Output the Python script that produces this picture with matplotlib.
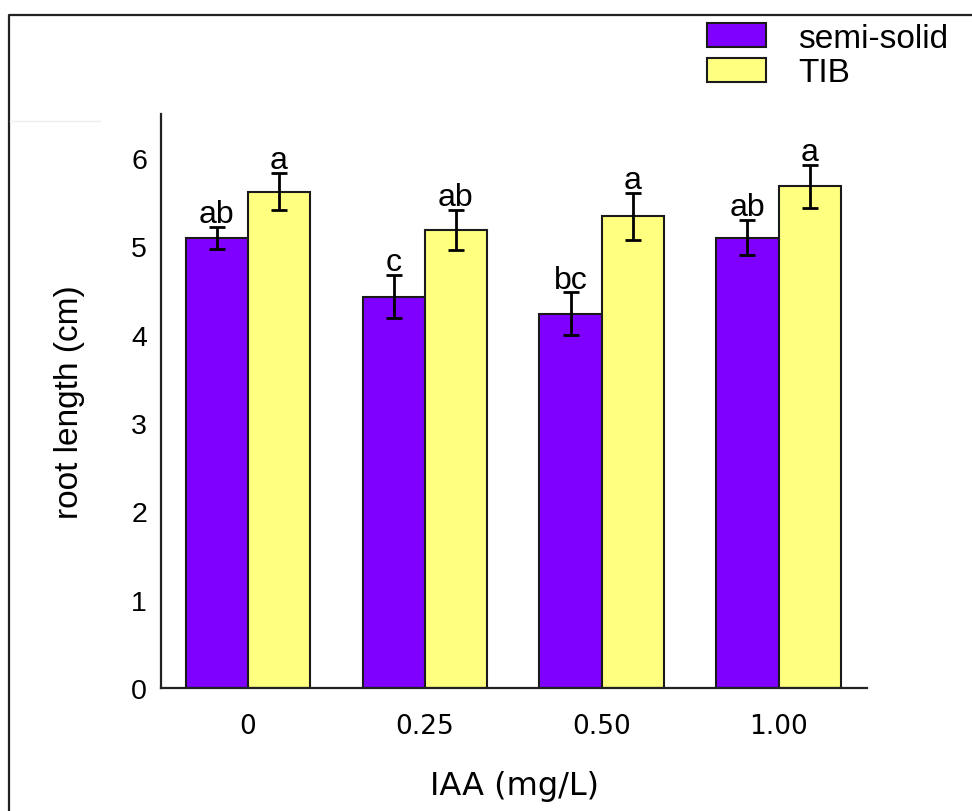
import matplotlib.pyplot as plt
from matplotlib.lines import Line2D
from matplotlib.patches import Patch
import numpy as np

# root length per IAA concentration
iaa_levels = ['0', '0.25', '0.50', '1.00']
semi_solid = [5.10, 4.43, 4.24, 5.10]
semi_solid_err = [0.125, 0.245, 0.24, 0.20]
tib = [5.62, 5.19, 5.34, 5.68]
tib_err = [0.21, 0.225, 0.265, 0.245]
semi_letters = ['ab', 'c', 'bc', 'ab']
tib_letters = ['a', 'ab', 'a', 'a']

purple = '#7f00ff'
yellow = '#ffff80'

fig = plt.figure(figsize=(9.72, 8.12), dpi=100)
ax = fig.add_axes([161 / 972, 1 - 689 / 812, 706 / 972, 574 / 812])

x = np.arange(len(iaa_levels))
width = 0.351

err_kw = dict(ecolor='black', elinewidth=2, capsize=5.5, capthick=2)
ax.bar(x - width / 2, semi_solid, width, yerr=semi_solid_err, color=purple,
       edgecolor='#1a1a1a', linewidth=1.5, error_kw=err_kw, zorder=2)
ax.bar(x + width / 2, tib, width, yerr=tib_err, color=yellow,
       edgecolor='#1a1a1a', linewidth=1.5, error_kw=err_kw, zorder=2)

# significance letters above the error bars
for i in range(len(x)):
    ax.annotate(semi_letters[i], (x[i] - width / 2, semi_solid[i] + semi_solid_err[i]),
                xytext=(0, 3.5), textcoords='offset points', ha='center', va='baseline',
                fontsize=23, family='Liberation Sans')
    ax.annotate(tib_letters[i], (x[i] + width / 2, tib[i] + tib_err[i]),
                xytext=(0, 3.5), textcoords='offset points', ha='center', va='baseline',
                fontsize=23, family='Liberation Sans')

ax.set_xlim(-0.49, 3.5)
ax.set_ylim(0, 6.5)
ax.set_yticks(range(0, 7))
ax.set_xticks(x)
ax.set_xticklabels(iaa_levels, fontsize=19, family='DejaVu Sans')
for lab in ax.get_yticklabels():
    lab.set_fontsize(20.5)
    lab.set_family('Liberation Sans')
ax.tick_params(axis='x', length=0, pad=18)
ax.tick_params(axis='y', length=0, pad=10)

for side in ['top', 'right']:
    ax.spines[side].set_visible(False)
for side in ['left', 'bottom']:
    ax.spines[side].set_linewidth(1.6)
    ax.spines[side].set_color('#222222')

ax.set_xlabel('IAA (mg/L)', fontsize=23, family='DejaVu Sans')
ax.xaxis.set_label_coords(0.5, -0.143)
ax.set_ylabel('root length (cm)', fontsize=24, family='Liberation Sans')
ax.yaxis.set_label_coords(-0.108, 0.5)

handles = [Patch(facecolor=purple, edgecolor='#1a1a1a', linewidth=1.5, label='semi-solid'),
           Patch(facecolor=yellow, edgecolor='#1a1a1a', linewidth=1.5, label='TIB')]
fig.legend(handles=handles, loc='upper left', bbox_to_anchor=(707 / 972, 1 - 24 / 812),
           frameon=False, borderpad=0, borderaxespad=0, labelspacing=0.1,
           handlelength=1.78, handleheight=0.72, handletextpad=0.95,
           prop={'family': 'Liberation Sans', 'size': 24})

# outer frame of the original figure (only top and left edges visible)
fig.add_artist(Line2D([9 / 972, 9 / 972, 1], [0, 1 - 16 / 812, 1 - 16 / 812],
                      transform=fig.transFigure, color='#222222', linewidth=1.6))
fig.add_artist(Line2D([10 / 972, 100 / 972], [1 - 122 / 812, 1 - 122 / 812],
                      transform=fig.transFigure, color='#eeeeee', linewidth=1))

fig.savefig('out.png', dpi=100)
